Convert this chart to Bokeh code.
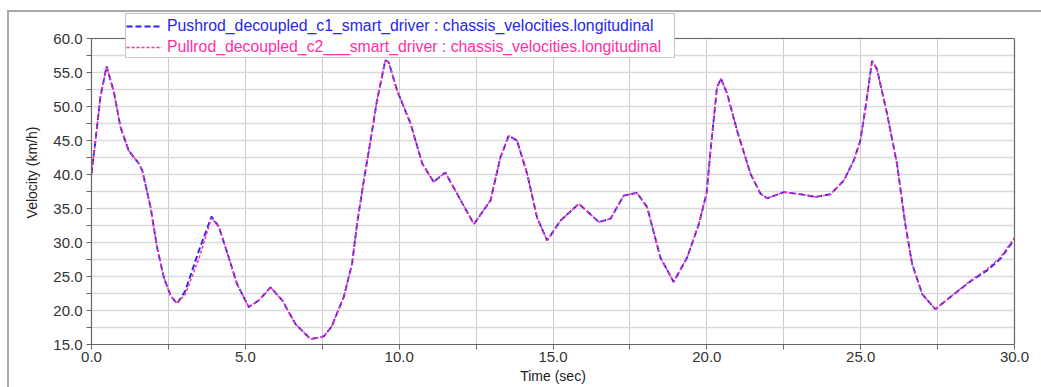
from bokeh.plotting import figure
from bokeh.models import (Legend, LegendItem, FixedTicker, NumeralTickFormatter,
                          Range1d, LinearAxis, Span)
from bokeh.embed import file_html
from bokeh.resources import INLINE

# ---- data ----
time_s = [0.0, 0.13, 0.29, 0.49, 0.73, 0.94, 1.21, 1.54, 1.65, 1.92, 2.13, 2.35, 2.57, 2.78,
          3.05, 3.49, 3.90, 4.14, 4.46, 4.73, 5.11, 5.44, 5.82, 6.20, 6.63, 7.12, 7.55, 7.80,
          8.20, 8.47, 8.63, 8.85, 9.07, 9.28, 9.55, 9.66, 9.93, 10.37, 10.75, 11.12, 11.50,
          11.83, 12.43, 12.97, 13.29, 13.56, 13.83, 14.16, 14.48, 14.81, 15.24, 15.84, 16.49,
          16.87, 17.30, 17.73, 18.06, 18.49, 18.92, 19.36, 19.74, 19.99, 20.12, 20.33, 20.46,
          20.66, 20.98, 21.42, 21.74, 21.96, 22.50, 23.04, 23.55, 24.02, 24.45, 24.78, 24.99,
          25.16, 25.37, 25.53, 25.86, 26.18, 26.45, 26.67, 27.00, 27.43, 27.92, 28.57, 29.11,
          29.54, 30.0]

pushrod_c1 = [40.1, 45.0, 51.4, 55.9, 52.1, 47.0, 43.5, 41.6, 40.6, 35.2, 29.3, 24.9, 22.2, 21.0,
              22.9, 28.8, 33.8, 32.3, 27.8, 23.9, 20.5, 21.5, 23.4, 21.5, 18.0, 15.8, 16.2, 17.6,
              22.0, 26.9, 32.7, 39.1, 45.0, 50.9, 56.8, 56.5, 52.4, 47.5, 41.6, 38.9, 40.3,
              37.6, 32.7, 36.2, 42.5, 45.7, 45.0, 40.1, 33.7, 30.3, 33.2, 35.7, 33.0,
              33.5, 36.9, 37.3, 35.2, 27.8, 24.2, 27.8, 32.7, 37.2, 43.5, 52.8, 54.1,
              51.9, 46.5, 40.1, 37.2, 36.5, 37.4, 37.1, 36.7, 37.1, 39.1, 42.1, 45.0,
              49.9, 56.7, 55.5, 48.9, 41.6, 32.7, 26.9, 22.4, 20.2, 22.0, 24.3, 25.9,
              27.6, 30.5]

pullrod_c2 = [40.1, 45.0, 51.4, 55.9, 52.1, 47.0, 43.5, 41.6, 40.6, 35.2, 29.3, 24.9, 22.2, 21.0,
              22.4, 27.6, 33.6, 32.3, 27.8, 23.9, 20.5, 21.5, 23.4, 21.5, 18.0, 15.8, 16.2, 17.6,
              22.0, 26.9, 32.7, 39.1, 45.0, 50.9, 56.8, 56.5, 52.4, 47.5, 41.6, 38.9, 40.3,
              37.6, 32.7, 36.2, 42.5, 45.7, 45.0, 40.1, 33.7, 30.3, 33.2, 35.7, 33.0,
              33.5, 36.9, 37.3, 35.2, 27.8, 24.2, 27.8, 32.7, 37.2, 43.5, 52.8, 54.1,
              51.9, 46.5, 40.1, 37.2, 36.5, 37.4, 37.1, 36.7, 37.1, 39.1, 42.1, 45.0,
              49.9, 56.7, 55.5, 48.9, 41.6, 32.7, 26.9, 22.4, 20.2, 22.0, 24.4, 26.1,
              27.8, 30.7]

series_labels = ["Pushrod_decoupled_c1_smart_driver : chassis_velocities.longitudinal",
                 "Pullrod_decoupled_c2___smart_driver : chassis_velocities.longitudinal"]
x_ticks = [0.0, 5.0, 10.0, 15.0, 20.0, 25.0, 30.0]
x_minor = [2.5, 7.5, 12.5, 17.5, 22.5, 27.5]
y_ticks = [15.0, 20.0, 25.0, 30.0, 35.0, 40.0, 45.0, 50.0, 55.0, 60.0]
y_minor = [17.5, 22.5, 27.5, 32.5, 37.5, 42.5, 47.5, 52.5, 57.5]
x_min, x_max = 0.0, 30.0
y_min, y_max = 15.0, 60.0

BLUE = "#2525f5"
PINK = "#ff2fa6"
FONT = "Liberation Sans"
EDGE = "#666666"

# frame reaches the top of the figure; axis values end at 60 (38px below the top)
y_top = y_max + 38 / 6.8

p = figure(width=1041, height=387, output_backend="svg", toolbar_location=None,
           x_range=Range1d(x_min, x_max), y_range=Range1d(y_min, y_top),
           min_border_left=91, min_border_right=27, min_border_top=0, min_border_bottom=43,
           background_fill_alpha=0, border_fill_alpha=0,
           outline_line_color=None)
p.styles = {"background": ("linear-gradient(#a9a9a9,#a9a9a9) 7px 10px / 1040px 2px no-repeat, "
                           "linear-gradient(#a9a9a9,#a9a9a9) 7px 10px / 2px 380px no-repeat, "
                           "#ffffff")}

r_blue = p.line(time_s, pushrod_c1, line_color=BLUE, line_width=1.9, line_dash="6 3")
r_pink = p.line(time_s, pullrod_c2, line_color=PINK, line_width=1.5, line_dash="3 2")
# empty, invisible renderers: let the legend box reserve space without drawing glyphs twice
r_blank = p.line(x=[], y=[], line_alpha=0)

# axes
for ax in (p.xaxis[0], p.yaxis[0]):
    ax.axis_line_color = EDGE
    ax.axis_line_width = 1.2
    ax.major_tick_line_color = EDGE
    ax.minor_tick_line_color = EDGE
    ax.major_tick_in = 0
    ax.major_tick_out = 5
    ax.minor_tick_in = 0
    ax.minor_tick_out = 5
    ax.major_label_text_font = FONT
    ax.major_label_text_font_size = "15px"
    ax.major_label_text_color = "#333333"
    ax.axis_label_text_font = FONT
    ax.axis_label_text_font_size = "14px"
    ax.axis_label_text_font_style = "normal"
    ax.axis_label_text_color = "#222222"
    ax.formatter = NumeralTickFormatter(format="0.0")

p.xaxis[0].ticker = FixedTicker(ticks=x_ticks, minor_ticks=x_minor)
p.yaxis[0].ticker = FixedTicker(ticks=y_ticks, minor_ticks=y_minor)
p.yaxis[0].bounds = (y_min, y_max)
p.xaxis[0].axis_label = "Time (sec)"
p.yaxis[0].axis_label = "Velocity (km/h)"
p.xaxis[0].axis_label_standoff = 3
p.yaxis[0].axis_label_standoff = 10
p.xaxis[0].major_label_standoff = 2
p.yaxis[0].major_label_standoff = 4

# right edge of the plot box
right_edge = LinearAxis(bounds=(y_min, y_max), axis_line_color=EDGE, axis_line_width=1.2,
                        major_tick_line_color=None, minor_tick_line_color=None,
                        major_label_text_font_size="0px", ticker=FixedTicker(ticks=[]))
p.add_layout(right_edge, "right")
# top edge of the plot box
p.add_layout(Span(location=y_max, dimension="width", line_color=EDGE, line_width=1.2))

# grid
p.xgrid.grid_line_color = "#cccccc"
p.xgrid.grid_line_width = 1
p.xgrid.minor_grid_line_color = "#cccccc"
p.xgrid.minor_grid_line_width = 1
p.xgrid.cross_bounds = (y_min, y_max)
p.ygrid.grid_line_color = "#dadada"
p.ygrid.grid_line_width = 1.6
p.ygrid.minor_grid_line_color = "#dadada"
p.ygrid.minor_grid_line_width = 1.6

# legend: a box holding both entries, then one transparent legend per entry for coloured text
LEG_X, LEG_Y, PAD, GW, STAND, ROW, LW = 34, 286, 1, 36, 5, 20, 505
TXT = "15.8px"
common = dict(orientation="vertical", padding=PAD, spacing=1, margin=0,
              glyph_width=GW, glyph_height=ROW, label_height=ROW, label_standoff=STAND,
              label_width=LW, label_text_font=FONT, label_text_font_size=TXT)
box = Legend(items=[LegendItem(label=series_labels[0], renderers=[r_blank]),
                    LegendItem(label=series_labels[1], renderers=[r_blank])],
             location=(LEG_X, LEG_Y), label_text_alpha=0,
             border_line_color="#8a8a8a", border_line_width=1.2,
             background_fill_color="white", background_fill_alpha=1, **common)
p.add_layout(box, "center")
row_loc = [LEG_Y + ROW + 1, LEG_Y]
for lbl, rend, col, yy in zip(series_labels, [r_blue, r_pink], [BLUE, PINK], row_loc):
    p.add_layout(Legend(items=[LegendItem(label=lbl, renderers=[rend])],
                        location=(LEG_X, yy), label_text_color=col,
                        border_line_alpha=0, background_fill_alpha=0, **common), "center")

open("out.html", "w").write(file_html(p, INLINE))
